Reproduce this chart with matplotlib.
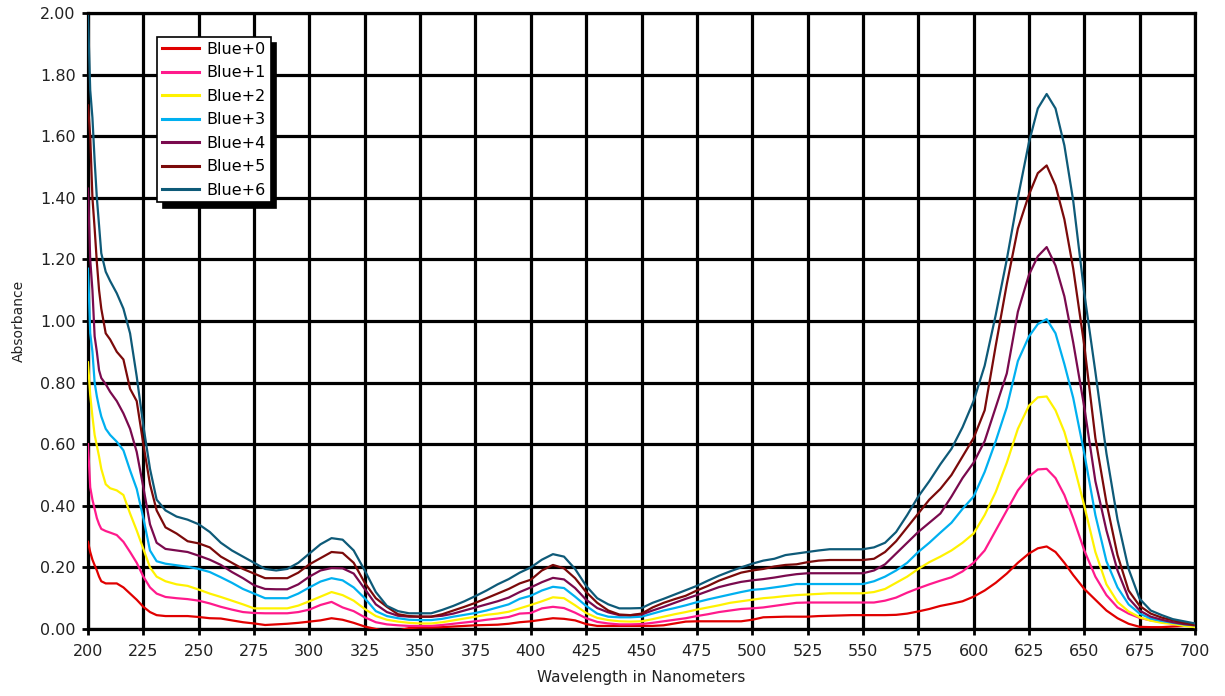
import matplotlib
matplotlib.use("Agg")
import matplotlib.pyplot as plt
from matplotlib.ticker import FormatStrFormatter

# Wavelength sampling (nm)
wavelength = [200, 201, 202, 203, 204, 205, 206, 208, 210, 213, 216, 219, 222, 225, 228, 231, 235,
              240, 245, 250, 255, 260, 265, 270, 275, 280, 285, 290, 295, 300, 305, 310, 315, 320,
              325, 330, 335, 340, 345, 350, 355, 360, 365, 370, 375, 380, 385, 390, 395, 400, 405,
              410, 415, 420, 425, 430, 435, 440, 445, 450, 455, 460, 465, 470, 475, 480, 485, 490,
              495, 500, 505, 510, 515, 520, 525, 530, 535, 540, 545, 550, 555, 560, 565, 570, 575,
              580, 585, 590, 595, 600, 605, 610, 615, 620, 625, 629, 633, 637, 641, 645, 650, 655,
              660, 665, 670, 675, 680, 685, 690, 695, 700]

blue_0 = [0.283, 0.25, 0.225, 0.207, 0.19, 0.17, 0.155, 0.148, 0.148, 0.148, 0.135, 0.115, 0.095, 0.072, 0.055, 0.045, 0.042,
          0.042, 0.042, 0.039, 0.035, 0.034, 0.028, 0.022, 0.018, 0.013, 0.015, 0.017, 0.02, 0.024, 0.028, 0.035, 0.03, 0.02,
          0.008, 0.0, -0.008, -0.005, 0.003, 0.005, 0.005, 0.006, 0.008, 0.01, 0.012, 0.013, 0.014, 0.017, 0.022, 0.025, 0.03,
          0.035, 0.033, 0.028, 0.016, 0.01, 0.01, 0.01, 0.01, 0.01, 0.01, 0.012, 0.018, 0.024, 0.025, 0.025, 0.025, 0.025,
          0.025, 0.03, 0.038, 0.039, 0.04, 0.04, 0.04, 0.042, 0.043, 0.044, 0.045, 0.045, 0.045, 0.045, 0.046, 0.05, 0.057,
          0.065, 0.075, 0.082, 0.09, 0.105, 0.125, 0.15, 0.18, 0.215, 0.245, 0.262, 0.268, 0.25, 0.215, 0.175, 0.13, 0.095,
          0.06, 0.035, 0.017, 0.007, 0.006, 0.006, 0.008, 0.01, 0.012]

blue_1 = [0.60, 0.46, 0.42, 0.39, 0.36, 0.34, 0.325, 0.318, 0.313, 0.305, 0.283, 0.25, 0.215, 0.17, 0.135, 0.115, 0.104,
          0.10, 0.097, 0.092, 0.083, 0.072, 0.063, 0.055, 0.052, 0.051, 0.051, 0.051, 0.055, 0.063, 0.078, 0.088, 0.07, 0.058,
          0.038, 0.022, 0.015, 0.012, 0.01, 0.01, 0.01, 0.013, 0.017, 0.021, 0.025, 0.03, 0.034, 0.039, 0.05, 0.052, 0.067,
          0.072, 0.068, 0.053, 0.035, 0.023, 0.018, 0.015, 0.015, 0.016, 0.02, 0.025, 0.03, 0.035, 0.042, 0.048, 0.055, 0.06,
          0.065, 0.067, 0.07, 0.075, 0.08, 0.085, 0.086, 0.086, 0.086, 0.086, 0.086, 0.086, 0.086, 0.092, 0.102, 0.118, 0.132,
          0.145, 0.157, 0.168, 0.187, 0.215, 0.255, 0.32, 0.385, 0.45, 0.495, 0.518, 0.52, 0.49, 0.435, 0.36, 0.255, 0.17,
          0.11, 0.07, 0.05, 0.036, 0.028, 0.023, 0.018, 0.014, 0.012]

blue_2 = [0.866, 0.76, 0.69, 0.63, 0.595, 0.56, 0.52, 0.47, 0.457, 0.45, 0.435, 0.375, 0.32, 0.26, 0.20, 0.17, 0.155,
          0.145, 0.14, 0.128, 0.115, 0.104, 0.092, 0.08, 0.067, 0.067, 0.067, 0.067, 0.076, 0.09, 0.105, 0.12, 0.11, 0.092,
          0.065, 0.042, 0.03, 0.024, 0.02, 0.018, 0.018, 0.022, 0.028, 0.034, 0.04, 0.046, 0.05, 0.056, 0.067, 0.078, 0.09,
          0.103, 0.10, 0.077, 0.052, 0.036, 0.029, 0.025, 0.024, 0.025, 0.032, 0.04, 0.048, 0.055, 0.063, 0.07, 0.077, 0.085,
          0.09, 0.095, 0.10, 0.103, 0.107, 0.11, 0.112, 0.114, 0.116, 0.116, 0.116, 0.116, 0.12, 0.13, 0.15, 0.17, 0.195,
          0.217, 0.235, 0.255, 0.28, 0.31, 0.37, 0.445, 0.54, 0.65, 0.725, 0.752, 0.755, 0.71, 0.64, 0.54, 0.40, 0.25,
          0.145, 0.088, 0.057, 0.038, 0.027, 0.02, 0.016, 0.01, 0.006]

blue_3 = [1.17, 0.96, 0.90, 0.80, 0.755, 0.72, 0.69, 0.65, 0.63, 0.608, 0.58, 0.515, 0.455, 0.36, 0.255, 0.22, 0.212,
          0.207, 0.202, 0.195, 0.185, 0.168, 0.15, 0.13, 0.115, 0.10, 0.10, 0.10, 0.115, 0.135, 0.154, 0.165, 0.158, 0.135,
          0.10, 0.058, 0.042, 0.035, 0.03, 0.029, 0.029, 0.033, 0.04, 0.046, 0.052, 0.06, 0.07, 0.08, 0.098, 0.108, 0.125,
          0.137, 0.133, 0.105, 0.075, 0.05, 0.04, 0.038, 0.038, 0.04, 0.05, 0.06, 0.068, 0.077, 0.087, 0.096, 0.104, 0.112,
          0.12, 0.127, 0.13, 0.135, 0.14, 0.146, 0.146, 0.146, 0.146, 0.146, 0.146, 0.146, 0.155, 0.17, 0.19, 0.215, 0.25,
          0.28, 0.313, 0.345, 0.39, 0.43, 0.51, 0.61, 0.72, 0.87, 0.95, 0.99, 1.006, 0.96, 0.86, 0.75, 0.57, 0.37,
          0.22, 0.135, 0.08, 0.05, 0.034, 0.026, 0.02, 0.015, 0.012]

blue_4 = [1.43, 1.20, 1.10, 0.95, 0.90, 0.84, 0.815, 0.795, 0.77, 0.74, 0.70, 0.65, 0.575, 0.46, 0.34, 0.28, 0.26,
          0.255, 0.25, 0.238, 0.225, 0.208, 0.185, 0.165, 0.142, 0.13, 0.129, 0.129, 0.145, 0.17, 0.19, 0.198, 0.197, 0.18,
          0.13, 0.08, 0.055, 0.043, 0.04, 0.04, 0.04, 0.043, 0.05, 0.06, 0.07, 0.08, 0.09, 0.102, 0.12, 0.135, 0.152,
          0.166, 0.161, 0.133, 0.095, 0.068, 0.054, 0.045, 0.045, 0.047, 0.06, 0.072, 0.085, 0.098, 0.11, 0.123, 0.136, 0.145,
          0.153, 0.158, 0.162, 0.167, 0.173, 0.178, 0.181, 0.181, 0.181, 0.181, 0.181, 0.181, 0.19, 0.21, 0.245, 0.28, 0.315,
          0.345, 0.375, 0.43, 0.49, 0.54, 0.61, 0.72, 0.83, 1.03, 1.15, 1.21, 1.24, 1.18, 1.08, 0.93, 0.72, 0.48,
          0.32, 0.19, 0.10, 0.06, 0.04, 0.03, 0.022, 0.016, 0.012]

blue_5 = [1.70, 1.60, 1.40, 1.30, 1.19, 1.10, 1.04, 0.96, 0.94, 0.90, 0.875, 0.78, 0.74, 0.60, 0.47, 0.385, 0.33,
          0.31, 0.285, 0.278, 0.265, 0.235, 0.215, 0.195, 0.18, 0.165, 0.165, 0.165, 0.183, 0.21, 0.23, 0.25, 0.247, 0.215,
          0.15, 0.10, 0.072, 0.048, 0.042, 0.04, 0.04, 0.048, 0.06, 0.072, 0.085, 0.10, 0.115, 0.13, 0.148, 0.16, 0.19,
          0.208, 0.197, 0.165, 0.12, 0.085, 0.06, 0.047, 0.045, 0.05, 0.07, 0.085, 0.097, 0.108, 0.125, 0.14, 0.157, 0.17,
          0.183, 0.19, 0.195, 0.203, 0.208, 0.21, 0.217, 0.222, 0.224, 0.224, 0.224, 0.224, 0.228, 0.25, 0.285, 0.33, 0.375,
          0.42, 0.455, 0.50, 0.56, 0.62, 0.71, 0.92, 1.12, 1.30, 1.41, 1.48, 1.505, 1.44, 1.33, 1.17, 0.92, 0.62,
          0.41, 0.24, 0.125, 0.075, 0.05, 0.037, 0.028, 0.02, 0.014]

blue_6 = [1.99, 1.75, 1.66, 1.52, 1.40, 1.31, 1.22, 1.16, 1.13, 1.09, 1.04, 0.96, 0.82, 0.66, 0.52, 0.42, 0.385,
          0.365, 0.355, 0.34, 0.315, 0.28, 0.255, 0.235, 0.215, 0.195, 0.19, 0.195, 0.215, 0.245, 0.275, 0.295, 0.29, 0.255,
          0.19, 0.12, 0.075, 0.058, 0.051, 0.051, 0.051, 0.062, 0.075, 0.09, 0.107, 0.125, 0.145, 0.162, 0.183, 0.20, 0.225,
          0.243, 0.235, 0.195, 0.14, 0.10, 0.08, 0.067, 0.067, 0.068, 0.085, 0.098, 0.112, 0.126, 0.14, 0.157, 0.173, 0.187,
          0.20, 0.212, 0.222, 0.228, 0.24, 0.245, 0.25, 0.255, 0.259, 0.259, 0.259, 0.259, 0.265, 0.28, 0.315, 0.37, 0.43,
          0.48, 0.535, 0.585, 0.655, 0.74, 0.855, 1.02, 1.20, 1.40, 1.58, 1.69, 1.737, 1.69, 1.57, 1.39, 1.09, 0.835,
          0.57, 0.355, 0.195, 0.098, 0.06, 0.045, 0.032, 0.025, 0.018]

series_names = ["Blue+0", "Blue+1", "Blue+2", "Blue+3", "Blue+4", "Blue+5", "Blue+6"]
series_values = [blue_0, blue_1, blue_2, blue_3, blue_4, blue_5, blue_6]
series_colors = ["#E00000", "#FF1A8C", "#FFF200", "#00B0F0", "#7A0A4E", "#7B0A0A", "#0E5A78"]

x_ticks = list(range(200, 701, 25))
y_ticks = [0.0, 0.2, 0.4, 0.6, 0.8, 1.0, 1.2, 1.4, 1.6, 1.8, 2.0]

plt.rcParams["font.family"] = ["DejaVu Sans"]

fig = plt.figure(figsize=(12.25, 6.96), dpi=100)
ax = fig.add_axes([88 / 1225, 1 - 629 / 696, 1107 / 1225, 616 / 696])

for name, vals, col in zip(series_names, series_values, series_colors):
    ax.plot(wavelength, vals, color=col, lw=1.6, label=name, zorder=3)

ax.set_xlim(200, 700)
ax.set_ylim(0, 2.0)
ax.set_xticks(x_ticks)
ax.set_yticks(y_ticks)
ax.yaxis.set_major_formatter(FormatStrFormatter("%.2f"))
ax.grid(True, color="black", lw=2.3, zorder=1)
ax.set_axisbelow(True)
for sp in ax.spines.values():
    sp.set_linewidth(2.3)
    sp.set_color("black")
ax.tick_params(axis="both", direction="out", length=4, width=2, color="black",
               labelsize=11.5, labelcolor="#222222")
ax.tick_params(axis="x", pad=7)
ax.tick_params(axis="y", pad=5)

ax.set_xlabel("Wavelength in Nanometers", fontsize=11, color="#222222", labelpad=8)
ax.set_ylabel("Absorbance", fontsize=10, color="#222222", labelpad=10)

leg = ax.legend(loc="upper left", bbox_to_anchor=((157 - 88) / 1107, (629 - 37) / 616),
                borderaxespad=0, fontsize=11.5, frameon=True, fancybox=False,
                handlelength=2.3, handletextpad=0.5, labelspacing=0.53,
                borderpad=0.3, shadow={"ox": 4, "oy": -4, "facecolor": "black",
                                       "edgecolor": "black", "alpha": 1})
leg.get_frame().set_edgecolor("black")
leg.get_frame().set_linewidth(1.2)
leg.get_frame().set_facecolor("white")
leg.get_frame().set_alpha(1)
for line in leg.get_lines():
    line.set_linewidth(2.2)

fig.savefig("out.png", dpi=100, facecolor="white")
